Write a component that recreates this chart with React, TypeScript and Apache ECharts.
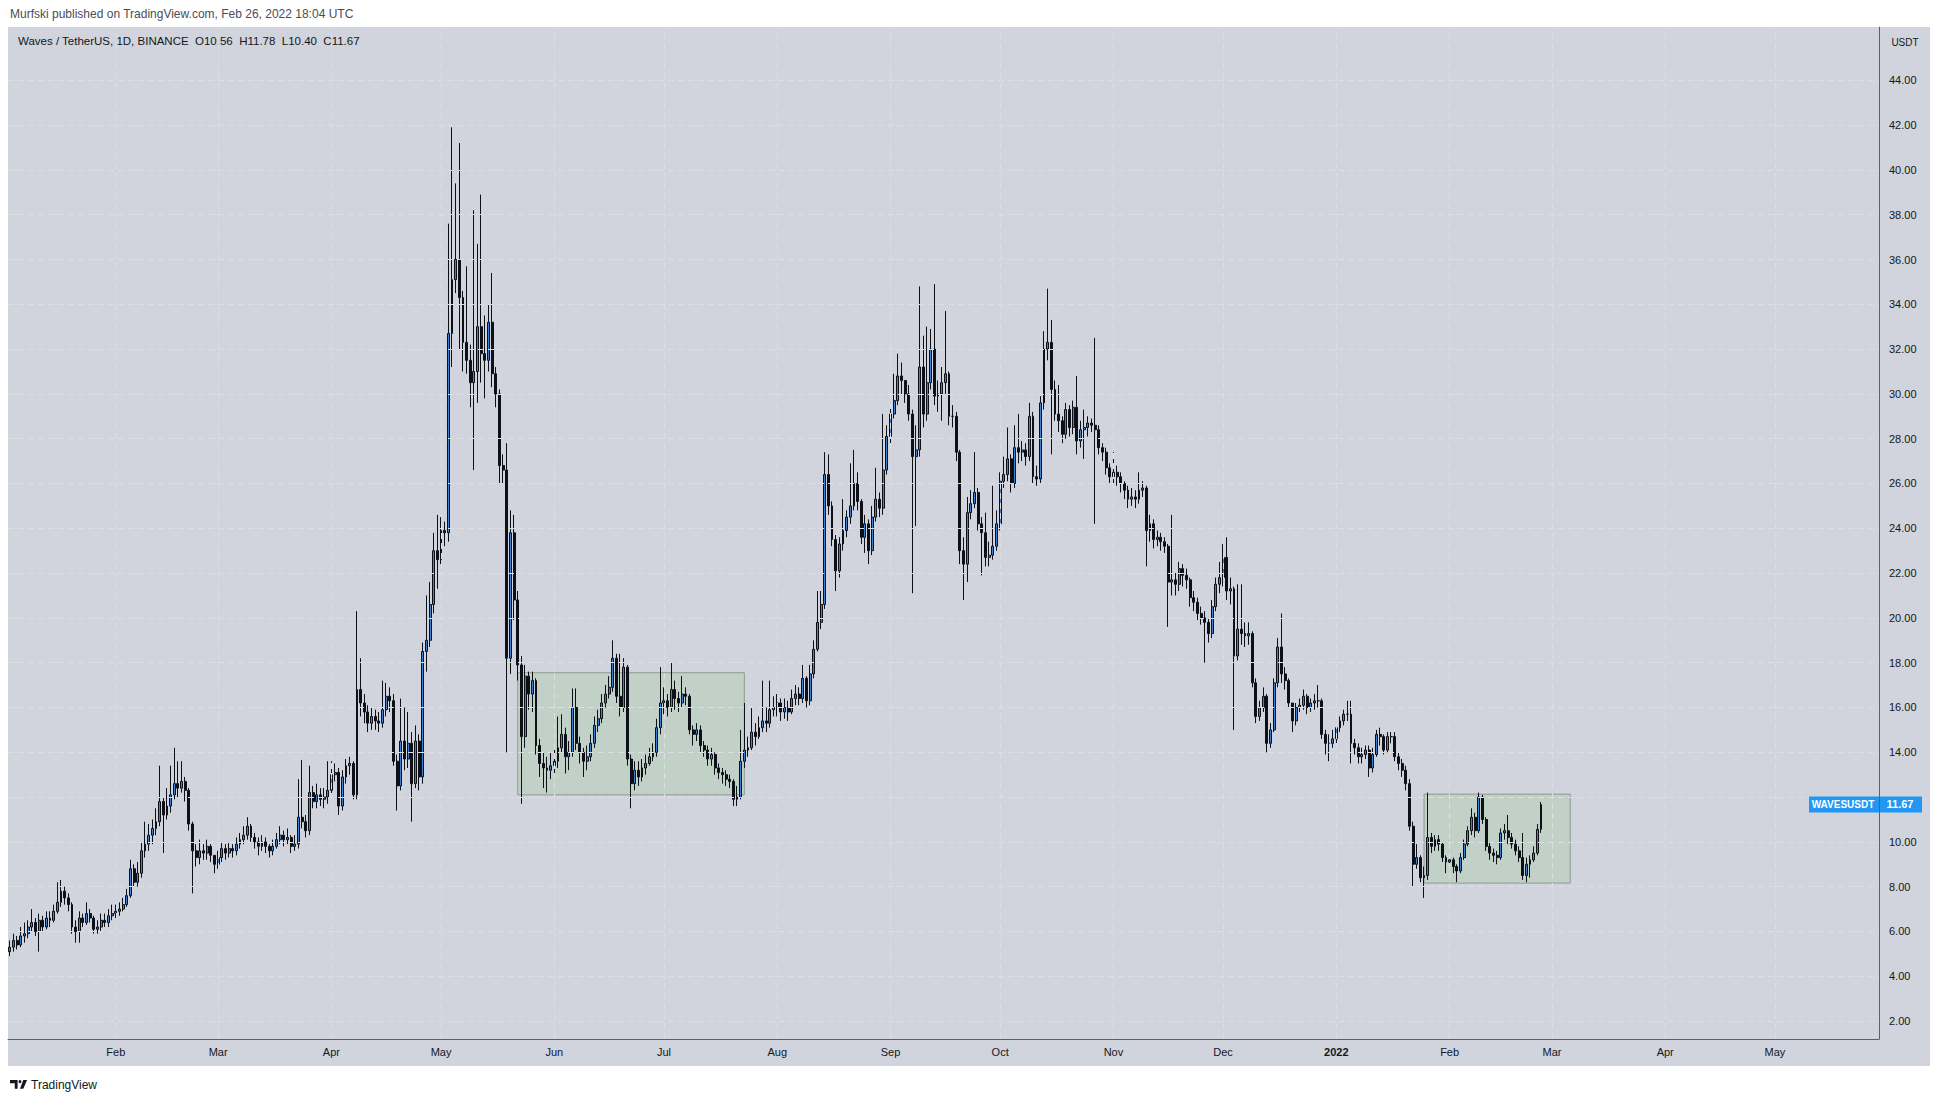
import React, { useEffect, useRef } from 'react';
import * as echarts from 'echarts';

// ---------- axis / label data ----------
const START_DATE = '2021-01-03';
const TOTAL_DAYS = 512; // visible time scale, Jan 3 2021 .. May 29 2022
const MONTH_LABELS = ['Jan', 'Feb', 'Mar', 'Apr', 'May', 'Jun', 'Jul', 'Aug', 'Sep', 'Oct', 'Nov', 'Dec'];
const Y_TICKS = [2, 4, 6, 8, 10, 12, 14, 16, 18, 20, 22, 24, 26, 28, 30, 32, 34, 36, 38, 40, 42, 44];
// 12.00 sits under the last-price label in the reference, so it is not printed
const Y_LABELS = [2, 4, 6, 8, 10, 14, 16, 18, 20, 22, 24, 26, 28, 30, 32, 34, 36, 38, 40, 42, 44];
const Y_MIN = 1.2;
const Y_MAX = 46.38;

const HEADER_TEXT = 'Murfski published on TradingView.com, Feb 26, 2022 18:04 UTC';
const SYMBOL_TEXT = 'Waves / TetherUS, 1D, BINANCE';
const OHLC_TEXT = 'O10.56  H11.78  L10.40  C11.67';
const QUOTE_LABEL = 'USDT';
const TICKER = 'WAVESUSDT';
const LAST_PRICE = 11.67;
const FIRST_OPEN = 5.1;

// ---------- daily closes / highs / lows ----------
const close2021Jan = [5.3, 5.6, 5.4, 5.8, 5.9, 6.2, 6.4, 6.0, 6.5, 6.2, 6.6, 6.5, 6.9, 7.3, 7.8, 7.5, 7.2, 6.2, 6.0, 6.6, 6.4, 6.8, 6.6, 6.1, 6.2, 6.5, 6.4, 6.7, 6.8];
const high2021Jan = [5.6, 5.9, 5.8, 6.2, 6.4, 6.5, 7.0, 6.6, 6.8, 6.7, 6.9, 6.9, 7.2, 8.2, 8.3, 8.0, 7.7, 7.3, 6.5, 6.9, 6.8, 7.3, 7.0, 6.7, 6.5, 6.8, 6.8, 7.0, 7.2];
const low2021Jan = [4.9, 5.1, 5.2, 5.3, 5.5, 5.7, 6.0, 5.8, 5.1, 6.0, 6.1, 6.2, 6.4, 6.8, 7.1, 7.2, 6.9, 5.9, 5.5, 5.5, 6.2, 6.3, 6.4, 5.9, 5.9, 6.0, 6.2, 6.2, 6.5];

const close2021Feb = [6.9, 7.0, 7.2, 7.6, 8.8, 8.2, 8.6, 9.6, 9.9, 10.3, 10.6, 10.9, 11.8, 11.2, 11.6, 12.1, 12.6, 12.4, 12.7, 12.3, 10.8, 9.6, 9.3, 9.6, 9.5, 9.8, 9.4, 9.0];
const high2021Feb = [7.2, 7.3, 7.5, 7.9, 9.2, 9.0, 9.1, 10.0, 10.9, 10.8, 11.0, 11.5, 13.4, 12.0, 12.4, 13.4, 14.2, 13.6, 13.6, 12.9, 12.4, 10.9, 9.9, 10.1, 9.9, 10.1, 9.9, 9.4];
const low2021Feb = [6.6, 6.7, 6.9, 7.1, 7.5, 8.0, 8.0, 8.4, 9.3, 9.6, 9.9, 10.3, 10.7, 9.5, 11.0, 11.3, 11.9, 12.0, 12.2, 11.8, 10.5, 7.7, 8.9, 9.0, 9.2, 9.2, 9.1, 8.6];

const close2021Mar = [9.3, 9.7, 9.5, 9.7, 9.6, 9.9, 10.1, 10.3, 10.7, 10.2, 10.0, 9.8, 10.0, 9.8, 9.6, 9.8, 10.1, 10.3, 10.1, 10.2, 9.8, 9.9, 11.1, 10.9, 10.5, 12.2, 11.8, 12.1, 11.9, 12.0, 12.3];
const high2021Mar = [9.6, 10.0, 9.9, 10.0, 9.9, 10.2, 10.4, 10.7, 11.1, 10.8, 10.4, 10.2, 10.3, 10.2, 9.9, 10.1, 10.4, 10.7, 10.5, 10.6, 10.3, 10.3, 12.8, 13.65, 11.2, 13.4, 12.5, 12.6, 12.4, 12.4, 13.6];
const low2021Mar = [8.8, 9.1, 9.2, 9.3, 9.3, 9.4, 9.7, 9.9, 10.1, 10.0, 9.7, 9.4, 9.6, 9.5, 9.3, 9.4, 9.7, 9.9, 9.8, 9.9, 9.5, 9.6, 9.7, 10.6, 10.2, 10.3, 11.5, 11.5, 11.6, 11.5, 11.7];

const close2021Apr = [13.0, 13.1, 11.6, 12.9, 13.4, 13.5, 12.1, 16.8, 16.2, 15.8, 15.3, 15.6, 15.4, 15.3, 15.9, 16.5, 16.3, 13.6, 12.5, 14.5, 13.7, 14.4, 12.6, 14.5, 12.9, 18.5, 19.0, 20.6, 23.0, 22.6];
const high2021Apr = [13.6, 13.5, 13.3, 13.2, 13.7, 13.8, 13.6, 20.3, 18.2, 16.6, 16.1, 16.0, 15.9, 15.8, 17.2, 17.1, 16.9, 16.6, 13.9, 16.4, 16.0, 15.8, 14.9, 15.2, 14.8, 18.9, 21.0, 21.6, 23.8, 24.6];
const low2021Apr = [12.1, 12.7, 11.2, 11.4, 12.6, 13.0, 11.9, 11.9, 15.6, 15.3, 14.9, 15.0, 15.0, 14.9, 15.1, 15.6, 15.8, 13.4, 11.4, 12.3, 13.2, 13.3, 10.9, 12.4, 12.3, 12.6, 17.6, 18.7, 20.2, 21.3];

const close2021May = [23.9, 23.8, 32.7, 35.1, 36.0, 34.3, 32.3, 31.5, 30.5, 31.0, 33.0, 31.8, 31.5, 33.2, 30.9, 30.0, 26.8, 26.6, 18.2, 23.8, 20.8, 17.9, 14.7, 17.4, 16.6, 17.2, 14.3, 13.5, 13.3, 13.2, 13.4];
const high2021May = [24.5, 24.3, 37.6, 41.9, 39.4, 41.2, 34.6, 35.7, 32.2, 38.2, 36.7, 38.9, 33.5, 34.0, 35.4, 31.2, 30.2, 27.3, 27.8, 24.8, 24.6, 21.2, 18.3, 17.9, 17.6, 17.6, 17.3, 14.6, 14.0, 13.8, 14.0];
const low2021May = [22.4, 23.2, 23.4, 31.2, 34.5, 32.0, 31.0, 30.9, 29.4, 26.6, 29.6, 30.5, 29.8, 31.0, 30.3, 29.4, 26.0, 26.0, 14.0, 17.5, 19.9, 17.2, 11.7, 14.2, 15.9, 15.8, 13.9, 12.9, 12.4, 12.2, 12.8];

const close2021Jun = [13.6, 14.2, 14.8, 13.8, 14.0, 16.0, 14.4, 14.0, 13.6, 13.8, 14.4, 15.2, 15.5, 16.2, 16.6, 16.9, 18.2, 16.5, 16.0, 17.8, 13.7, 12.6, 13.2, 12.9, 13.3, 13.5, 13.8, 14.0, 15.1, 16.2];
const high2021Jun = [14.1, 15.6, 15.7, 15.1, 14.5, 16.85, 16.85, 14.7, 14.2, 14.3, 14.8, 15.6, 15.9, 16.6, 17.0, 17.4, 19.0, 18.4, 18.4, 18.2, 17.9, 13.9, 13.6, 13.6, 13.7, 13.9, 14.2, 14.4, 15.5, 17.8];
const low2021Jun = [12.9, 13.3, 14.0, 13.05, 13.2, 13.8, 14.1, 13.5, 12.9, 13.2, 13.6, 14.2, 14.9, 15.3, 16.0, 16.4, 16.7, 16.2, 15.6, 15.8, 13.4, 11.5, 12.3, 12.5, 12.7, 13.0, 13.4, 13.6, 13.8, 14.8];

const close2021Jul = [16.3, 16.0, 16.8, 16.4, 16.2, 16.6, 16.5, 15.0, 14.8, 15.0, 14.3, 14.1, 13.7, 13.9, 13.3, 13.1, 13.0, 12.8, 12.7, 11.9, 12.0, 13.6, 14.1, 14.2, 14.9, 14.7, 15.1, 15.4, 15.3, 15.9, 16.0];
const high2021Jul = [16.9, 16.6, 18.0, 17.2, 16.7, 17.4, 16.9, 16.6, 15.2, 15.3, 15.2, 14.5, 14.3, 14.2, 14.0, 13.5, 13.3, 13.2, 13.0, 12.8, 12.5, 15.0, 16.2, 14.7, 16.0, 15.3, 15.6, 17.2, 16.0, 17.2, 16.5];
const low2021Jul = [15.7, 15.6, 15.8, 15.9, 15.8, 16.0, 16.1, 14.8, 14.3, 14.5, 14.0, 13.8, 13.4, 13.4, 13.0, 12.8, 12.6, 12.5, 12.4, 11.6, 11.6, 11.9, 13.3, 13.8, 14.1, 14.3, 14.6, 14.9, 14.9, 15.1, 15.6];

const close2021Aug = [16.2, 15.8, 16.0, 15.8, 16.4, 16.6, 16.4, 17.3, 16.3, 17.5, 18.6, 19.8, 20.6, 26.4, 25.0, 23.5, 22.1, 23.3, 23.9, 24.5, 25.0, 26.0, 25.2, 23.6, 24.2, 23.0, 24.5, 25.3, 24.9, 26.6, 28.1];
const high2021Aug = [16.6, 16.4, 16.4, 16.3, 16.8, 17.0, 16.9, 17.9, 17.4, 17.9, 19.0, 21.2, 21.2, 27.4, 27.3, 25.2, 23.7, 23.6, 25.3, 24.8, 26.9, 27.5, 26.5, 25.3, 24.6, 24.4, 25.0, 26.7, 25.6, 29.1, 28.6];
const low2021Aug = [15.6, 15.4, 15.5, 15.4, 15.7, 16.1, 16.1, 16.2, 16.0, 16.1, 17.3, 18.5, 19.5, 20.4, 24.6, 23.2, 21.2, 21.8, 23.0, 23.6, 24.2, 24.8, 24.8, 23.3, 22.9, 22.4, 22.8, 24.3, 24.5, 24.6, 26.4];

const close2021Sep = [29.1, 29.7, 30.8, 30.6, 30.0, 29.1, 27.2, 27.5, 31.2, 29.1, 30.5, 32.0, 29.9, 30.0, 30.5, 30.9, 29.0, 29.0, 27.4, 23.0, 22.4, 24.7, 25.1, 25.6, 24.2, 23.8, 22.7, 22.8, 23.2, 24.2];
const high2021Sep = [29.6, 30.9, 31.8, 31.4, 30.6, 30.4, 29.3, 28.6, 34.8, 32.6, 33.0, 32.9, 34.9, 30.6, 31.2, 33.7, 31.0, 29.5, 29.2, 27.5, 23.6, 25.4, 25.7, 27.4, 25.8, 24.5, 24.7, 23.4, 25.9, 24.8];
const low2021Sep = [27.8, 28.9, 29.5, 30.0, 29.6, 28.8, 21.1, 24.1, 27.2, 28.5, 28.8, 30.2, 29.5, 29.2, 28.8, 30.0, 28.6, 28.5, 27.0, 22.4, 20.8, 21.6, 24.4, 24.9, 23.9, 21.9, 22.3, 22.3, 22.6, 23.0];

const close2021Oct = [26.1, 26.4, 27.1, 26.0, 27.6, 27.4, 27.5, 27.2, 29.0, 26.3, 26.2, 29.6, 32.0, 32.3, 30.2, 29.1, 28.8, 28.2, 29.3, 28.5, 29.4, 27.9, 28.4, 28.5, 28.7, 28.6, 28.4, 27.6, 27.4, 26.7, 26.3];
const high2021Oct = [26.5, 27.2, 28.5, 27.3, 28.6, 29.1, 27.9, 27.8, 29.6, 29.2, 26.8, 29.9, 32.8, 34.7, 33.3, 30.6, 30.4, 29.0, 29.6, 29.5, 29.7, 30.8, 28.8, 29.3, 29.0, 28.9, 32.5, 28.6, 27.8, 27.6, 26.9];
const low2021Oct = [23.9, 25.8, 26.1, 25.6, 25.8, 26.9, 27.0, 26.8, 27.0, 26.0, 25.9, 26.0, 29.3, 31.5, 27.3, 28.8, 28.3, 27.8, 28.0, 28.1, 28.2, 27.3, 27.6, 27.1, 28.1, 28.3, 24.2, 27.3, 27.0, 26.4, 26.0];

const close2021Nov = [26.5, 26.3, 26.0, 25.7, 25.3, 25.4, 25.3, 25.7, 25.8, 23.9, 24.2, 23.5, 23.6, 23.4, 23.2, 21.6, 21.7, 21.5, 22.2, 21.9, 21.7, 20.9, 20.7, 20.2, 20.0, 19.8, 19.3, 20.5, 21.5, 21.8];
const high2021Nov = [27.4, 26.8, 26.5, 26.1, 25.9, 25.8, 25.7, 26.5, 26.1, 25.9, 24.6, 24.4, 23.9, 23.8, 23.6, 23.3, 24.6, 22.0, 22.5, 22.4, 22.2, 21.8, 21.2, 20.9, 20.5, 20.3, 20.0, 20.8, 21.8, 22.5];
const low2021Nov = [26.0, 25.9, 25.6, 25.3, 24.9, 25.0, 24.9, 25.1, 25.4, 22.3, 23.4, 23.1, 23.2, 23.0, 22.9, 19.6, 21.0, 21.0, 21.2, 21.4, 21.3, 20.5, 20.3, 19.9, 19.7, 18.0, 18.9, 19.1, 20.3, 21.1];

const close2021Dec = [22.7, 21.2, 21.3, 18.3, 19.5, 19.3, 19.2, 19.3, 17.1, 15.6, 16.0, 16.5, 14.4, 15.0, 17.1, 18.7, 17.5, 17.2, 16.2, 15.4, 16.0, 16.1, 16.5, 16.0, 16.2, 16.3, 16.3, 14.8, 14.4, 14.4, 14.6];
const high2021Dec = [23.3, 23.6, 21.8, 21.4, 21.5, 21.5, 19.8, 19.8, 19.4, 17.3, 16.3, 16.9, 16.6, 15.3, 17.3, 19.1, 20.2, 17.8, 17.3, 16.2, 16.2, 16.4, 16.8, 16.6, 16.4, 16.6, 17.0, 16.4, 15.0, 14.8, 15.0];
const low2021Dec = [21.4, 20.8, 20.6, 15.0, 18.1, 18.8, 18.7, 18.8, 16.9, 15.3, 15.4, 15.8, 14.0, 14.2, 14.9, 16.9, 17.1, 16.8, 16.0, 14.9, 15.2, 15.8, 15.9, 15.7, 15.8, 15.9, 16.0, 14.6, 13.9, 13.6, 14.2];

const close2022Jan = [15.1, 15.4, 15.7, 15.7, 14.4, 14.2, 13.8, 13.9, 14.1, 13.3, 13.9, 14.8, 14.7, 14.1, 14.7, 14.7, 13.8, 13.5, 13.2, 12.6, 10.7, 9.0, 9.3, 8.4, 8.5, 10.2, 9.8, 10.1, 9.9, 9.3, 9.1];
const high2022Jan = [15.3, 15.6, 15.9, 16.3, 16.3, 14.6, 14.4, 14.2, 14.3, 14.3, 14.2, 15.0, 15.1, 14.8, 14.9, 14.9, 14.9, 14.0, 13.7, 13.4, 12.8, 10.9, 9.9, 9.4, 8.9, 12.2, 10.4, 10.3, 10.3, 10.0, 9.4];
const low2022Jan = [14.4, 14.9, 15.2, 15.4, 13.5, 13.9, 13.5, 13.5, 13.7, 12.9, 13.1, 13.8, 14.3, 13.9, 14.0, 14.4, 13.6, 13.2, 12.9, 12.3, 10.5, 8.0, 8.8, 8.2, 7.5, 8.3, 9.5, 9.6, 9.6, 9.1, 8.6];

const close2022Feb = [9.2, 8.9, 8.7, 9.3, 9.9, 10.5, 11.1, 10.5, 12.0, 11.0, 9.8, 9.5, 9.4, 9.3, 10.4, 10.5, 10.2, 9.9, 9.6, 9.3, 8.5, 9.0, 9.2, 9.5, 10.56, 11.67];
const high2022Feb = [9.4, 9.3, 9.0, 9.5, 10.1, 10.7, 11.5, 11.3, 12.2, 12.1, 11.1, 10.0, 9.7, 9.6, 10.6, 10.8, 11.2, 10.4, 10.1, 9.8, 10.4, 9.3, 9.4, 9.8, 10.8, 11.78];
const low2022Feb = [8.9, 8.6, 8.2, 8.6, 9.2, 9.8, 10.3, 10.2, 10.4, 10.8, 9.6, 9.2, 9.1, 9.0, 9.2, 10.1, 9.9, 9.7, 9.4, 9.1, 8.3, 8.2, 8.4, 9.1, 9.4, 10.4];

// rectangles drawn on the chart: [startDate, endDate, top, bottom]
const BOX_1 = ['2021-05-22', '2021-07-23', 17.55, 12.1] as const;
const BOX_2 = ['2022-01-25', '2022-03-06', 12.13, 8.16] as const;

const CLOSES = [
  ...close2021Jan, ...close2021Feb, ...close2021Mar, ...close2021Apr, ...close2021May, ...close2021Jun, ...close2021Jul,
  ...close2021Aug, ...close2021Sep, ...close2021Oct, ...close2021Nov, ...close2021Dec, ...close2022Jan, ...close2022Feb,
];
const HIGHS = [
  ...high2021Jan, ...high2021Feb, ...high2021Mar, ...high2021Apr, ...high2021May, ...high2021Jun, ...high2021Jul,
  ...high2021Aug, ...high2021Sep, ...high2021Oct, ...high2021Nov, ...high2021Dec, ...high2022Jan, ...high2022Feb,
];
const LOWS = [
  ...low2021Jan, ...low2021Feb, ...low2021Mar, ...low2021Apr, ...low2021May, ...low2021Jun, ...low2021Jul,
  ...low2021Aug, ...low2021Sep, ...low2021Oct, ...low2021Nov, ...low2021Dec, ...low2022Jan, ...low2022Feb,
];

const FONT = '"Liberation Sans", "DejaVu Sans", Arial, sans-serif';
const TEXT_COLOR = '#131722';
const PANEL_BG = '#d1d4dc';
const GRID_COLOR = '#dcdee4';
const AXIS_LINE = '#5d606b';
const UP_FILL = '#3b82d0';
const DOWN_FILL = '#0e1018';
const WICK = '#0e1018';
const LABEL_BLUE = '#2196f3';

const TV_LOGO_PATH = 'M0 0H8V8H5V3H0Z M10.5 0A1.5 1.5 0 1 1 10.49 0Z M14 0H18L14 8H10.5Z';

function buildDates(start: string, count: number): string[] {
  const out: string[] = [];
  const base = new Date(start + 'T00:00:00Z').getTime();
  for (let i = 0; i < count; i++) {
    out.push(new Date(base + i * 86400000).toISOString().slice(0, 10));
  }
  return out;
}

let logoRegistered = false;

export default function App() {
  const ref = useRef<HTMLDivElement | null>(null);

  useEffect(() => {
    document.body.style.margin = '0';
    document.body.style.background = '#ffffff';
    if (!ref.current) return;
    if (!logoRegistered) {
      echarts.graphic.registerShape('tvlogo', echarts.graphic.extendPath(TV_LOGO_PATH, {}) as any);
      logoRegistered = true;
    }
    const chart = echarts.init(ref.current, undefined, { renderer: 'svg' });

    const dates = buildDates(START_DATE, TOTAL_DAYS);
    const monthStarts = dates.filter((d) => d.endsWith('-01'));

    const candleData = CLOSES.map((c, i) => {
      const o = i === 0 ? FIRST_OPEN : CLOSES[i - 1];
      const h = Math.max(HIGHS[i], o, c);
      const l = Math.min(LOWS[i], o, c);
      return [o, c, l, h];
    });

    const option: any = {
      animation: false,
      backgroundColor: '#ffffff',
      grid: { left: 8, right: 61, top: 27, bottom: 63, containLabel: false },
      xAxis: {
        type: 'category',
        data: dates,
        boundaryGap: true,
        axisLine: { show: true, lineStyle: { color: AXIS_LINE, width: 1 } },
        axisTick: { show: false },
        splitLine: { show: false },
        axisLabel: {
          interval: (_idx: number, val: string) => val.endsWith('-01'),
          formatter: (val: string) => {
            const parts = val.split('-');
            const m = parseInt(parts[1], 10);
            if (m === 1) return '{yr|' + parts[0] + '}';
            return MONTH_LABELS[m - 1];
          },
          color: TEXT_COLOR,
          fontSize: 11,
          fontFamily: FONT,
          margin: 7,
          rich: { yr: { fontWeight: 'bold', fontSize: 11, fontFamily: FONT, color: TEXT_COLOR } },
        },
      },
      yAxis: {
        type: 'value',
        position: 'right',
        min: Y_MIN,
        max: Y_MAX,
        axisLine: { show: true, lineStyle: { color: AXIS_LINE, width: 1 } },
        axisTick: { show: false, customValues: Y_TICKS },
        splitLine: { show: false },
        axisLabel: {
          customValues: Y_LABELS,
          formatter: (v: number) => v.toFixed(2),
          color: TEXT_COLOR,
          fontSize: 11,
          fontFamily: FONT,
          margin: 10,
        },
      },
      series: [
        {
          type: 'line',
          data: [],
          silent: true,
          z: 1,
          markLine: {
            silent: true,
            animation: false,
            symbol: ['none', 'none'],
            label: { show: false },
            emphasis: { disabled: true },
            lineStyle: { color: GRID_COLOR, width: 1, type: [6, 4] },
            data: [
              ...Y_TICKS.map((v) => ({ yAxis: v })),
              ...monthStarts.map((d) => ({ xAxis: d })),
            ],
          },
        },
        {
          type: 'candlestick',
          data: candleData,
          z: 3,
          barWidth: 2.4,
          itemStyle: {
            color: UP_FILL,
            color0: DOWN_FILL,
            borderColor: WICK,
            borderColor0: WICK,
            borderWidth: 1,
          },
          markArea: {
            silent: true,
            animation: false,
            itemStyle: { color: 'rgba(172, 204, 168, 0.38)', borderColor: '#8d998e', borderWidth: 1 },
            data: [
              [{ xAxis: BOX_1[0], yAxis: BOX_1[2] }, { xAxis: BOX_1[1], yAxis: BOX_1[3] }],
              [{ xAxis: BOX_2[0], yAxis: BOX_2[2] }, { xAxis: BOX_2[1], yAxis: BOX_2[3] }],
            ],
          },
        },
      ],
    };
    chart.setOption(option);

    const yLast = chart.convertToPixel({ yAxisIndex: 0 }, LAST_PRICE) as number;

    chart.setOption({
      graphic: [
        {
          type: 'rect', silent: true, z: -100,
          shape: { x: 8, y: 27, width: 1922, height: 1039 },
          style: { fill: PANEL_BG },
        },
        {
          type: 'text', silent: true, x: 10, y: 14,
          style: { text: HEADER_TEXT, fill: '#4a4d57', fontSize: 12, fontFamily: FONT, verticalAlign: 'middle' },
        },
        {
          type: 'text', silent: true, x: 18, y: 41,
          style: { text: SYMBOL_TEXT + '  ' + OHLC_TEXT, fill: TEXT_COLOR, fontSize: 11.5, fontFamily: FONT, verticalAlign: 'middle' },
        },
        {
          type: 'text', silent: true, x: 1905, y: 42,
          style: { text: QUOTE_LABEL, fill: TEXT_COLOR, fontSize: 10, fontFamily: FONT, align: 'center', verticalAlign: 'middle' },
        },
        {
          type: 'rect', silent: true, z: 50,
          shape: { x: 1809, y: yLast - 8, width: 113, height: 16 },
          style: { fill: LABEL_BLUE },
        },
        {
          type: 'line', silent: true, z: 51,
          shape: { x1: 1879.5, y1: yLast - 8, x2: 1879.5, y2: yLast + 8 },
          style: { stroke: AXIS_LINE, lineWidth: 1 },
        },
        {
          type: 'text', silent: true, z: 52, x: 1843, y: yLast,
          style: { text: TICKER, fill: '#ffffff', fontSize: 10, fontWeight: 'bold', fontFamily: FONT, align: 'center', verticalAlign: 'middle' },
        },
        {
          type: 'text', silent: true, z: 52, x: 1900, y: yLast,
          style: { text: LAST_PRICE.toFixed(2), fill: '#ffffff', fontSize: 11, fontWeight: 'bold', fontFamily: FONT, align: 'center', verticalAlign: 'middle' },
        },
        {
          type: 'tvlogo', silent: true, x: 10, y: 1080, scaleX: 0.95, scaleY: 1.1,
          style: { fill: TEXT_COLOR },
        },
        {
          type: 'text', silent: true, x: 31, y: 1085,
          style: { text: 'TradingView', fill: TEXT_COLOR, fontSize: 12, fontFamily: FONT, verticalAlign: 'middle' },
        },
      ],
    });

    return () => {
      chart.dispose();
    };
  }, []);

  return <div ref={ref} style={{ width: 1940, height: 1102 }} />;
}
